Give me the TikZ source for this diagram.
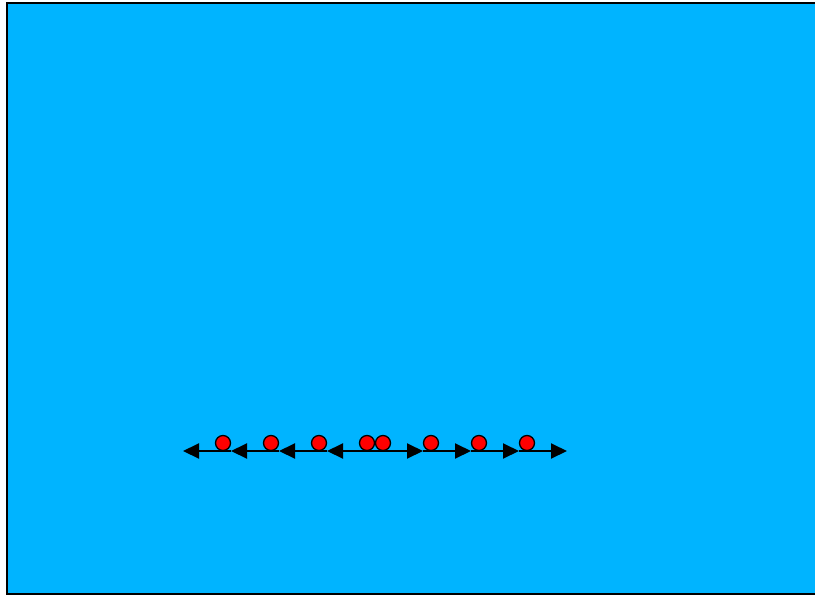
\documentclass[tikz,border=0pt]{standalone}
\usetikzlibrary{arrows.meta}
\definecolor{sky}{RGB}{0,180,255}
\tikzset{
  ball/.style={circle,draw=black,fill=red,line width=1.3pt,minimum size=15pt,inner sep=0pt},
  vec/.style={line width=2pt,-{Triangle[length=16pt,width=15pt]}},
}
\begin{document}
\begin{tikzpicture}[x=1pt,y=-1pt]
\useasboundingbox (0,0) rectangle (815,595);
\fill[sky] (7,3) rectangle (820,594);
\draw[line width=2pt] (820,3) -- (7,3) -- (7,594) -- (820,594);
% arrow tails and tips
\foreach \n/\x in {a/231,b/279,c/327,d/375}{
  \coordinate (\n s) at (\x,451);
  \coordinate (\n t) at ({\x-48},451);
}
\foreach \n/\x in {e/375,f/423,g/471,h/519}{
  \coordinate (\n s) at (\x,451);
  \coordinate (\n t) at ({\x+48},451);
}
\foreach \n in {a,b,c,d,e,f,g,h}{
  \draw[vec] (\n s) -- (\n t);
}
% balls
\foreach \n/\x in {a/223,b/271,c/319,d/367,e/383,f/431,g/479,h/527}{
  \node[ball] (\n) at (\x,443) {};
}
\end{tikzpicture}
\end{document}
